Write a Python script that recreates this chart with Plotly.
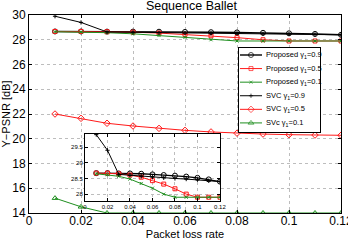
import plotly.graph_objects as go

loss = [0.01, 0.02, 0.03, 0.04, 0.05, 0.06, 0.07, 0.08, 0.09, 0.10, 0.11, 0.12]
prop_09 = [28.67, 28.67, 28.66, 28.66, 28.65, 28.63, 28.61, 28.59, 28.56, 28.52, 28.47, 28.40]
prop_05 = [28.67, 28.67, 28.65, 28.61, 28.54, 28.43, 28.32, 28.17, 28.00, 27.90, 27.90, 27.90]
prop_01 = [28.65, 28.62, 28.57, 28.48, 28.34, 28.19, 28.00, 27.90, 27.90, 27.90, 27.90, 27.90]
svc_09 = [29.90, 29.40, 28.63, 28.60, 28.57, 28.54, 28.52, 28.50, 28.48, 28.46, 28.43, 28.40]
svc_05 = [22.00, 21.65, 21.25, 21.03, 20.84, 20.68, 20.55, 20.45, 20.38, 20.33, 20.30, 20.28]
svc_01 = [15.20, 14.50, 14.00, 14.00, 14.00, 14.00, 14.00, 14.00, 14.00, 14.00, 14.00, 14.00]

names = ["Proposed γ<sub>1</sub>=0.9", "Proposed γ<sub>1</sub>=0.5", "Proposed γ<sub>1</sub>=0.1",
         "SVC γ<sub>1</sub>=0.9", "SVC γ<sub>1</sub>=0.5", "SVc γ<sub>1</sub>=0.1"]
main_ticks_x = [0, 0.02, 0.04, 0.06, 0.08, 0.1, 0.12]
main_tick_text_x = ["0", "0.02", "0.04", "0.06", "0.08", "0.1", "0.12"]
main_ticks_y = [14, 16, 18, 20, 22, 24, 26, 28, 30]
inset_ticks_y = [28, 28.5, 29, 29.5]
inset_tick_text_y = ["28", "28.5", "29", "29.5"]

BLACK = "#000000"
RED = "#ff1a1a"
GREEN = "#1f8f1f"

series = [
    (prop_09, BLACK, "circle-open", 5, 1.4),
    (prop_05, RED, "square-open", 4, 1.0),
    (prop_01, GREEN, "x-thin-open", 3, 1.0),
    (svc_09, BLACK, "cross-thin-open", 3, 1.0),
    (svc_05, RED, "diamond-open", 5, 1.0),
    (svc_01, GREEN, "triangle-up-open", 5, 1.0),
]

fig = go.Figure()
# main plot
for ys, col, sym, ms, lw in series:
    fig.add_trace(go.Scatter(x=loss, y=ys, mode="lines+markers", xaxis="x", yaxis="y",
                             line=dict(color=col, width=lw),
                             marker=dict(symbol=sym, size=ms, color=col, line=dict(width=1, color=col)),
                             showlegend=False))
# inset plot
for ys, col, sym, ms, lw in series:
    fig.add_trace(go.Scatter(x=loss, y=ys, mode="lines+markers", xaxis="x2", yaxis="y2",
                             line=dict(color=col, width=lw),
                             marker=dict(symbol=sym, size=ms, color=col, line=dict(width=1, color=col)),
                             showlegend=False))
# custom legend
for i, (ys, col, sym, ms, lw) in enumerate(series):
    fig.add_trace(go.Scatter(x=[1, 12, 23], y=[i, i, i], mode="lines+markers", xaxis="x3", yaxis="y3",
                             line=dict(color=col, width=lw),
                             marker=dict(symbol=sym, size=[0, ms, 0], color=col, line=dict(width=1, color=col)),
                             showlegend=False, hoverinfo="skip"))
    fig.add_annotation(x=25, y=i, xref="x3", yref="y3", text=names[i], showarrow=False,
                       xanchor="left", yanchor="middle", font=dict(size=7.5, color="#000"))

tickfont = dict(family="Liberation Sans, Arial", size=12, color="#000")
ax_common = dict(showline=True, linecolor="#000", linewidth=1, mirror="allticks",
                 ticks="inside", ticklen=3, tickcolor="#000", zeroline=False, automargin=False,
                 showgrid=True, gridcolor="#bdbdbd", griddash="dot", gridwidth=1,
                 ticklabeloverflow="allow")

fig.update_layout(
    width=348, height=240,
    margin=dict(l=29, r=7, t=15, b=27),
    paper_bgcolor="white", plot_bgcolor="white",
    font=dict(family="Liberation Sans, Arial", color="#000"),
    title=dict(text="Sequence Ballet", x=0.55, xanchor="center", y=0.975, yanchor="middle",
               font=dict(size=12.5, color="#000")),
    xaxis=dict(domain=[0, 1], range=[0, 0.12], tickvals=main_ticks_x, ticktext=main_tick_text_x,
               tickfont=tickfont, anchor="y", ticklabelstandoff=-3,
               title=dict(text="Packet loss rate", font=dict(size=11), standoff=2), **ax_common),
    yaxis=dict(domain=[0, 1], range=[14, 30], tickvals=main_ticks_y, tickfont=tickfont, anchor="x",
               title=dict(text="Y−PSNR [dB]", font=dict(size=11), standoff=2), **ax_common),
    xaxis2=dict(domain=[0.1795, 0.612], range=[0, 0.12], tickvals=main_ticks_x, ticktext=main_tick_text_x,
                tickfont=dict(size=6, color="#000"), anchor="y2", **ax_common),
    yaxis2=dict(domain=[0.0606, 0.399], range=[27.78, 29.92], tickvals=inset_ticks_y,
                ticktext=inset_tick_text_y,
                tickfont=dict(size=6, color="#000"), anchor="x2", **ax_common),
    xaxis3=dict(domain=[0.673, 0.933], range=[0, 81], anchor="y3", showticklabels=False,
                showgrid=False, zeroline=False, ticks="", showline=True, mirror=True,
                linecolor="#000", linewidth=1, automargin=False),
    yaxis3=dict(domain=[0.409, 0.833], range=[5.67, -0.51], anchor="x3", showticklabels=False,
                showgrid=False, zeroline=False, ticks="", showline=True, mirror=True,
                linecolor="#000", linewidth=1, automargin=False),
)

fig.write_html("out.html")
